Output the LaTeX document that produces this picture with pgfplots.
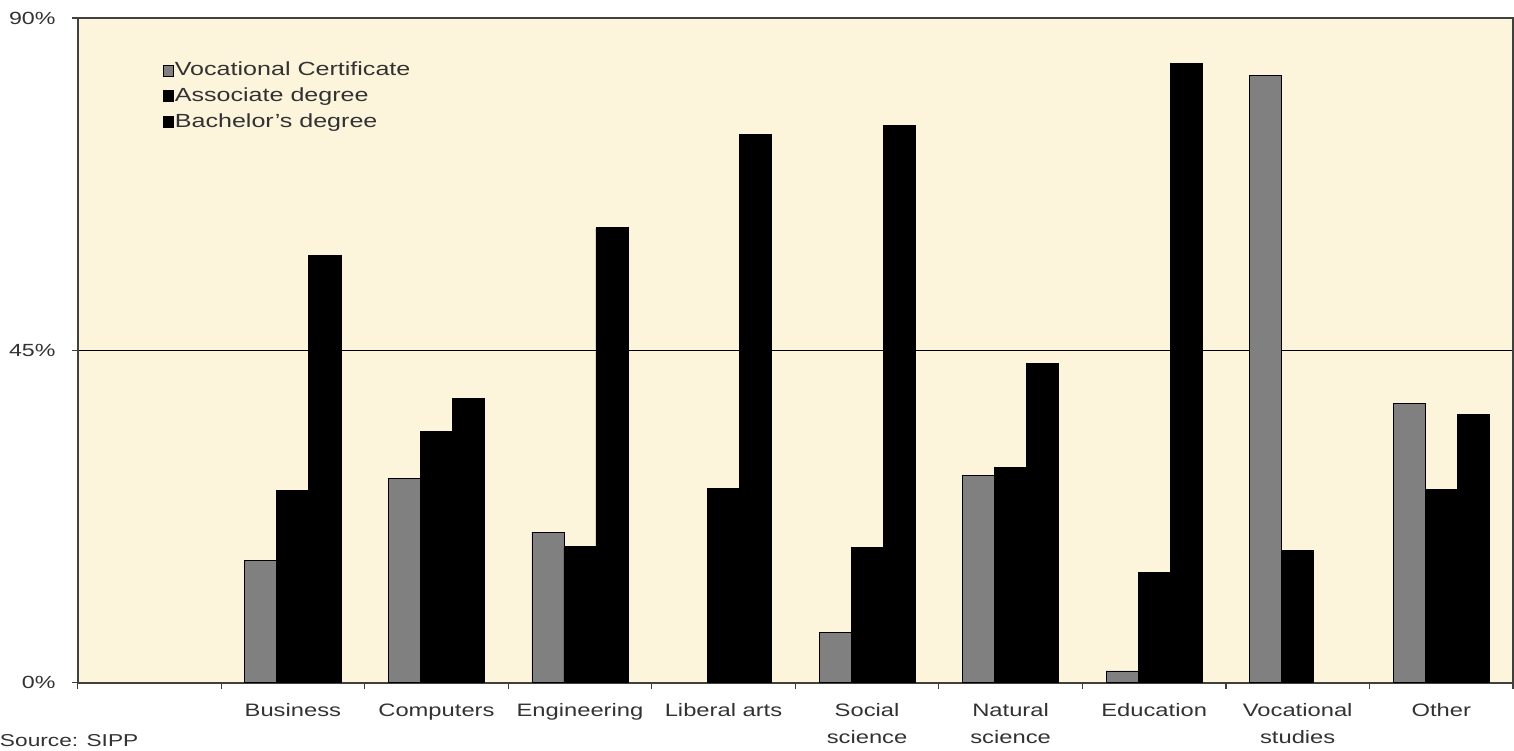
\documentclass[border=0pt]{standalone}
\usepackage{fontspec}
\setmainfont[FakeStretch=1.32]{Liberation Sans}
\usepackage{pgfplots}
\pgfplotsset{compat=1.18}
\definecolor{bgc}{RGB}{252,245,220}
\definecolor{barg}{RGB}{128,128,128}
\definecolor{txt}{RGB}{50,50,50}
\begin{document}
\begin{tikzpicture}
\begin{axis}[
 scale only axis,
 width=718pt, height=332.5pt,
 xmin=-0.5, xmax=9.5, ymin=0, ymax=90,
 ybar=0pt, bar width=0.223,
 axis background/.style={fill=bgc},
 axis line style={draw=black!75, line width=1pt},
 /pgf/number format/assume math mode=true,
 ytick={0,45,90},
 yticklabel={\pgfmathprintnumber{\tick}\%},
 yticklabel style={text=txt, font=\fontsize{8.8}{10}\selectfont, xshift=-4.5pt},
 ymajorgrids, grid style={black, line width=0.6pt},
 xtick={-0.5,0.5,...,9.5},
 x tick label as interval,
 xticklabels={{}, Business, Computers, Engineering, Liberal arts, Social\\science, Natural\\science, Education, Vocational\\studies, Other},
 xticklabel style={align=center, text=txt, font=\fontsize{9}{13.5}\selectfont, yshift=-4pt},
 tick align=outside, tick pos=left,
 major tick length=3pt,
 tick style={draw=black!75, line width=0.6pt},
 legend style={draw=none, fill=none, at={(0.055,0.942)}, anchor=north west,
   font=\fontsize{9.5}{11}\selectfont, text=txt, row sep=3.2pt,
   nodes={inner sep=0.6pt}},
 legend cell align=left,
 legend image code/.code={\draw[#1, line width=0.4pt] (0pt,-2.7pt) rectangle (5pt,2.7pt);},
]
\addplot[fill=barg, draw=black, line width=0.4pt] coordinates {
 (1,16.5) (2,27.6) (3,20.4) (5,6.8) (6,28.1) (7,1.6) (8,82.2) (9,37.8)};
\addplot[fill=black, draw=black, line width=0.4pt] coordinates {
 (1,26.0) (2,34.0) (3,18.4) (4,26.3) (5,18.3) (6,29.1) (7,14.9) (8,17.9) (9,26.2)};
\addplot[fill=black, draw=black, line width=0.4pt] coordinates {
 (1,57.8) (2,38.5) (3,61.6) (4,74.2) (5,75.5) (6,43.2) (7,83.8) (9,36.3)};
\legend{Vocational Certificate, Associate degree, Bachelor's degree}
\coordinate (O) at (rel axis cs:0,0);
\end{axis}
\path ([yshift=341.5pt]O) coordinate (T);
\path (T) ++(0,0);
\node[anchor=south west, text=txt, font=\fontsize{8.6}{10}\selectfont, inner sep=0pt]
  at ([xshift=-39pt,yshift=-32pt]O) {Source: SIPP};
\end{tikzpicture}
\end{document}
